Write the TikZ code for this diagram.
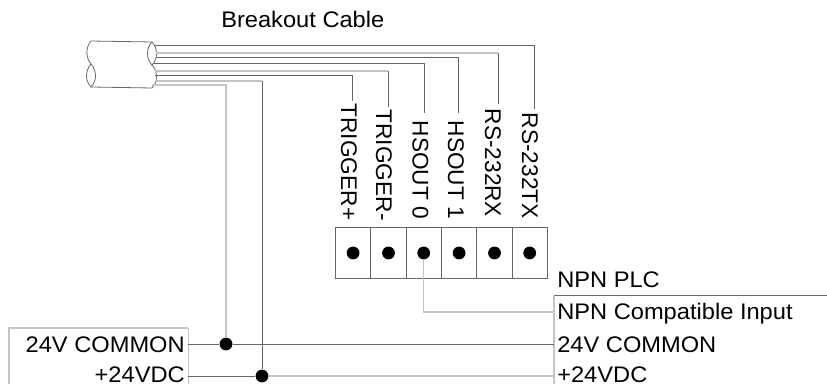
\documentclass[tikz,border=0pt]{standalone}
\usepackage{fontspec}
\setmainfont[FakeStretch=1.05]{Liberation Sans}
\newfontfamily\vertfont{Liberation Sans}
\definecolor{wiredark}{HTML}{666666}
\definecolor{wirelight}{HTML}{C4C4C4}
\begin{document}
\begin{tikzpicture}[x=0.75pt,y=-0.75pt,
  dk/.style={draw=wiredark,line width=0.75pt},
  lt/.style={draw=wirelight,line width=1.1pt},
  lab/.style={inner sep=0pt,text=black,font=\fontsize{16.9pt}{18pt}\selectfont},
  vlab/.style={inner sep=0pt,text=black,font=\vertfont\fontsize{17pt}{18pt}\selectfont,rotate=-90,anchor=base west},
  dot/.style={circle,fill=black,inner sep=0pt,minimum size=9.6pt},
  cellbox/.style={draw=wiredark,line width=0.75pt,minimum width=26.4pt,minimum height=38.2pt,inner sep=0pt,anchor=north west}]
\useasboundingbox (0,0) rectangle (827,384);
% title
\node[lab,anchor=base west] (title) at (221,28) {Breakout Cable};
% cable
\draw[draw=wiredark,line width=0.6pt] (91,41) -- (152,42) (91,87) -- (152,88);
\draw[draw=wiredark,line width=0.6pt] (91,41) .. controls (85,48) and (86,58) .. (91,64);
\draw[draw=wiredark,line width=0.6pt] (91,64) .. controls (97,71) and (97,81) .. (91,87) .. controls (85,81) and (85,71) .. (91,64);
\draw[draw=wiredark,line width=0.6pt] (152,42) .. controls (158,48) and (158,59) .. (152,65) .. controls (146,59) and (146,48) .. (152,42);
\draw[draw=wiredark,line width=0.6pt] (152,65) .. controls (158,71) and (158,82) .. (152,88);
% cable exit points
\coordinate (c1) at (155,46);
\coordinate (c2) at (156,53);
\coordinate (c3) at (156,58);
\coordinate (c4) at (154,64);
\coordinate (c5) at (155,71);
\coordinate (c6) at (155,76);
\coordinate (c7) at (155,81);
\coordinate (c8) at (152,85);
% terminals
\foreach \n/\x in {1/335,2/370.4,3/405.6,4/441,5/476.4,6/511.6}{
  \node[cellbox] (cell\n) at (\x,227) {};
  \node[dot] (d\n) at (cell\n.center) {};
}
% rotated labels
\node[vlab] (lTp) at (341,103.5) {TRIGGER+};
\node[vlab] (lTm) at (376,109.5) {TRIGGER-};
\node[vlab] (lH0) at (412.5,120.5) {HSOUT 0};
\node[vlab] (lH1) at (448,120.5) {HSOUT 1};
\node[vlab] (lRx) at (485,108.5) {RS-232RX};
\node[vlab] (lTx) at (522,112.5) {RS-232TX};
% wires to labels
\coordinate (tTx) at (534,109);
\coordinate (tRx) at (498,104);
\coordinate (tH1) at (458,113);
\coordinate (tH0) at (424,113);
\coordinate (tTm) at (388,107);
\coordinate (tTp) at (352,101);
\draw[dk] (c1) -- (c1 -| tTx) -- (tTx);
\draw[lt] (c2) -- (c2 -| tRx);
\draw[dk] (c2 -| tRx) -- (tRx);
\draw[dk] (c3) -- (c3 -| tH1) -- (tH1);
\draw[dk] (c4) -- (c4 -| tH0) -- (tH0);
\draw[lt] (c5) -- (c5 -| tTm);
\draw[dk] (c5 -| tTm) -- (tTm);
\draw[dk] (c6) -- (c6 -| tTp) -- (tTp);
% left box
\coordinate (lbl) at (9,384);
\coordinate (lbt) at (9,328);
\coordinate (lbr) at (188,328);
\coordinate (lbb) at (188,384);
\draw[lt] (lbl) -- (lbt) -- (lbr);
\draw[draw=wirelight,line width=0.6pt] (lbr) -- (lbb);
\node[lab,anchor=base east] (lcom) at (185,352.5) {24V COMMON};
\node[lab,anchor=base east] (lvdc) at (185,382) {+24VDC};
% right box
\coordinate (rbb) at (554,384);
\coordinate (rbt) at (554,296);
\coordinate (rbr) at (827,296);
\draw[lt] (rbb) -- (rbt);
\draw[dk] (rbt) -- (rbr);
\node[lab,anchor=base west] (plc) at (557,288) {NPN PLC};
\node[lab,anchor=base west] (npn) at (557,320) {NPN Compatible Input};
\node[lab,anchor=base west] (rcom) at (557,352.5) {24V COMMON};
\node[lab,anchor=base west] (rvdc) at (557,382) {+24VDC};
% power dots
\node[dot] (pc) at (226,344) {};
\node[dot] (pv) at (262,376) {};
\draw[lt] (c8) -- (c8 -| pc) -- (pc);
\draw[lt] (c7) -- (c7 -| pv);
\draw[dk] (c7 -| pv) -- (pv);
\draw[dk] (lbr |- pc) -- (pc) -- (rbt |- pc);
\draw[dk] (lbr |- pv) -- (pv);
\draw[lt] (pv) -- (rbt |- pv);
% input wire
\coordinate (inw) at (554,312);
\draw[lt] (d3) -- (d3 |- inw) -- (inw);
\end{tikzpicture}
\end{document}
